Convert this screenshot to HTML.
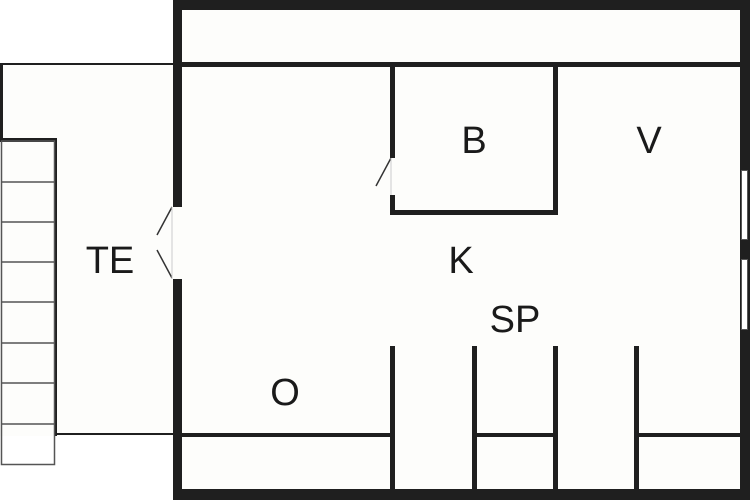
<!DOCTYPE html>
<html><head><meta charset="utf-8"><style>
html,body{margin:0;padding:0;background:#fff;}
svg{display:block;}
text{font-family:"Liberation Sans",sans-serif;font-size:38px;fill:#1a1a1a;text-anchor:middle;}
</style></head><body>
<svg width="750" height="500" viewBox="0 0 750 500" xmlns="http://www.w3.org/2000/svg">
<rect x="0" y="0" width="750" height="500" fill="#fff"/>
<!-- terrace area -->
<rect x="0" y="64" width="176" height="372" fill="#fdfdfb"/>
<!-- building interior -->
<rect x="176" y="0" width="574" height="500" fill="#fdfdfb"/>
<g fill="#1f1f1f">
<!-- outer walls -->
<rect x="173" y="0" width="577" height="10"/>
<rect x="173" y="0" width="9" height="207"/>
<rect x="173" y="279" width="9" height="221"/>
<rect x="173" y="489" width="577" height="11"/>
<rect x="740" y="0" width="10" height="500"/>
<!-- inner top line -->
<rect x="182" y="62" width="558" height="5"/>
<!-- B room -->
<rect x="390" y="62" width="5" height="96"/>
<rect x="390" y="195" width="5" height="20"/>
<rect x="390" y="210" width="168" height="5"/>
<rect x="553" y="62" width="5" height="153"/>
<!-- bottom partitions -->
<rect x="390" y="346" width="5" height="145"/>
<rect x="472" y="346" width="5" height="145"/>
<rect x="553" y="346" width="5" height="145"/>
<rect x="634" y="346" width="5" height="145"/>
<rect x="182" y="433" width="208" height="4"/>
<rect x="477" y="433" width="76" height="4"/>
<rect x="639" y="433" width="101" height="4"/>
<!-- terrace outline -->
<rect x="0" y="63" width="173" height="2"/>
<rect x="0" y="63" width="3" height="78"/>
<rect x="0" y="138" width="57" height="4"/>
<rect x="54" y="140" width="3" height="296"/>
<rect x="56" y="433" width="117" height="2"/>
</g>
<!-- windows -->
<rect x="741.5" y="170.5" width="6" height="69" fill="#fff" stroke="#555" stroke-width="1"/>
<rect x="741.5" y="259.5" width="6" height="70" fill="#fff" stroke="#555" stroke-width="1"/>
<!-- stairs -->
<g stroke="#555" stroke-width="1.5" fill="none">
<rect x="1.5" y="141" width="53" height="323.5"/>
<line x1="1" y1="182" x2="55" y2="182"/>
<line x1="1" y1="222" x2="55" y2="222"/>
<line x1="1" y1="262" x2="55" y2="262"/>
<line x1="1" y1="302" x2="55" y2="302"/>
<line x1="1" y1="343" x2="55" y2="343"/>
<line x1="1" y1="383" x2="55" y2="383"/>
<line x1="1" y1="424" x2="55" y2="424"/>
</g>
<!-- doors -->
<g stroke="#333" stroke-width="1.5" fill="none">
<line x1="172" y1="207" x2="157" y2="235"/>
<line x1="157" y1="250" x2="172" y2="278"/>
<line x1="391" y1="158" x2="376" y2="186"/>
</g>
<g stroke="#ccc" stroke-width="1">
<line x1="172" y1="207" x2="172" y2="279"/>
<line x1="391" y1="158" x2="391" y2="195"/>
</g>
<!-- labels -->
<text x="110" y="273">TE</text>
<text x="474" y="153">B</text>
<text x="649" y="153">V</text>
<text x="461" y="273">K</text>
<text x="515" y="332">SP</text>
<text x="285" y="405">O</text>
</svg>
</body></html>
